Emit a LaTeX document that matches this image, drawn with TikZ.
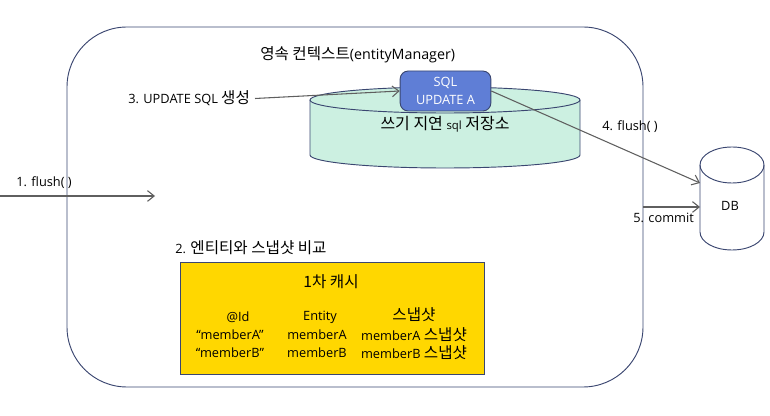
\documentclass[tikz,border=0pt]{standalone}
\usepackage{fontspec}
\setmainfont{Open Sans}
\newfontfamily\kr{Noto Sans CJK KR}
\usetikzlibrary{arrows.meta}
\definecolor{framenavy}{HTML}{3A4670}
\definecolor{arrowgray}{HTML}{5F5F5F}
\definecolor{storemint}{HTML}{CCF0E1}
\definecolor{sqlblue}{HTML}{5F7ED6}
\definecolor{cacheyellow}{HTML}{FFD700}
\tikzset{
  frame/.style={draw=framenavy, line width=0.7pt},
  flow/.style={draw=arrowgray, line width=0.8pt, -{Straight Barb[length=5pt,width=8pt]}},
  txt/.style={inner sep=0pt, font=\fontsize{9.6}{11}\selectfont, text=black},
  cell/.style={txt, font=\fontsize{9.6}{11}\selectfont},
  hangul/.style={font=\kr\fontsize{12}{13}\selectfont},
}
\newcommand{\krbig}[1]{{\kr\fontsize{11.7}{13}\selectfont #1}}
\begin{document}
\begin{tikzpicture}[x=0.75pt, y=-0.75pt]
    \useasboundingbox (0,0) rectangle (770,416);

    % persistence context
    \node[frame, rounded corners=45pt, minimum width=432pt, minimum height=270pt, inner sep=0pt] (context) at (355,207) {};
    \node[txt, anchor=west] (contexttitle) at (260,55) {\krbig{영속 컨텍스트}{\fontsize{10.7}{12}\selectfont(entityManager)}};

    % write-behind store
    \coordinate (storeL) at (310,100);
    \draw[frame, fill=storemint] (storeL) arc[start angle=180, end angle=360, x radius=135, y radius=13]
        -- (580,155) arc[start angle=0, end angle=180, x radius=135, y radius=13] -- cycle;
    \draw[frame] (storeL) arc[start angle=180, end angle=0, x radius=135, y radius=13];
    \node[hangul, inner sep=0pt] (storetitle) at (445,124) {쓰기 지연 {\rmfamily\fontsize{8.5}{10}\selectfont sql} 저장소};

    \node[frame, fill=sqlblue, rounded corners=6pt, minimum width=68pt, minimum height=30pt, inner sep=0pt,
        text=white, align=center, font=\fontsize{9.6}{13.5}\selectfont] (sqlbox) at (445.5,91) {SQL\\UPDATE A};

    % database
    \coordinate (dbL) at (700,165);
    \draw[frame, fill=white] (dbL) arc[start angle=180, end angle=360, x radius=32, y radius=18]
        -- (764,232) arc[start angle=0, end angle=180, x radius=32, y radius=18] -- cycle;
    \draw[frame] (dbL) arc[start angle=180, end angle=0, x radius=32, y radius=18];
    \node[cell] (dbtitle) at (730,206) {DB};
    \coordinate (dbflush) at (700,183);
    \coordinate (dbcommit) at (700,207);

    % first-level cache
    \node[frame, fill=cacheyellow, minimum width=228pt, minimum height=84pt, inner sep=0pt] (cache) at (332,318) {};
    \node[txt] (cachetitle) at (331,282) {\krbig{1차 캐시}};
    \node[txt, anchor=west] (comparelabel) at (175,248) {2. \krbig{엔티티와 스냅샷 비교}};

    \node[cell] (idhead) at (238,317) {@Id};
    \node[cell] (entityhead) at (320,317) {Entity};
    \node[txt] (snaphead) at (414,315) {\krbig{스냅샷}};
    \node[cell] (ida) at (230,335) {“memberA”};
    \node[cell] (entitya) at (317,335) {memberA};
    \node[cell] (snapa) at (414,335) {memberA \krbig{스냅샷}};
    \node[cell] (idb) at (230,353) {“memberB”};
    \node[cell] (entityb) at (317,353) {memberB};
    \node[cell] (snapb) at (414,353) {memberB \krbig{스냅샷}};

    % steps
    \coordinate (flushfrom) at (0,196);
    \coordinate (flushto) at (155,196);
    \node[cell, anchor=west] (stepone) at (16,183) {1. flush( )};
    \draw[flow] (flushfrom) -- (flushto);

    \node[cell, anchor=west] (stepthree) at (128,98) {3. UPDATE SQL \krbig{생성}};
    \draw[flow] (255,98.5) coordinate (stepthreeout) -- (sqlbox.west);

    \node[cell, anchor=west] (stepfour) at (602,127) {4. flush( )};
    \draw[flow] (sqlbox.east) -- (dbflush);

    \node[cell, anchor=west] (stepfive) at (633,218) {5. commit};
    \draw[flow] (context.east |- dbcommit) -- (dbcommit);
\end{tikzpicture}
\end{document}
